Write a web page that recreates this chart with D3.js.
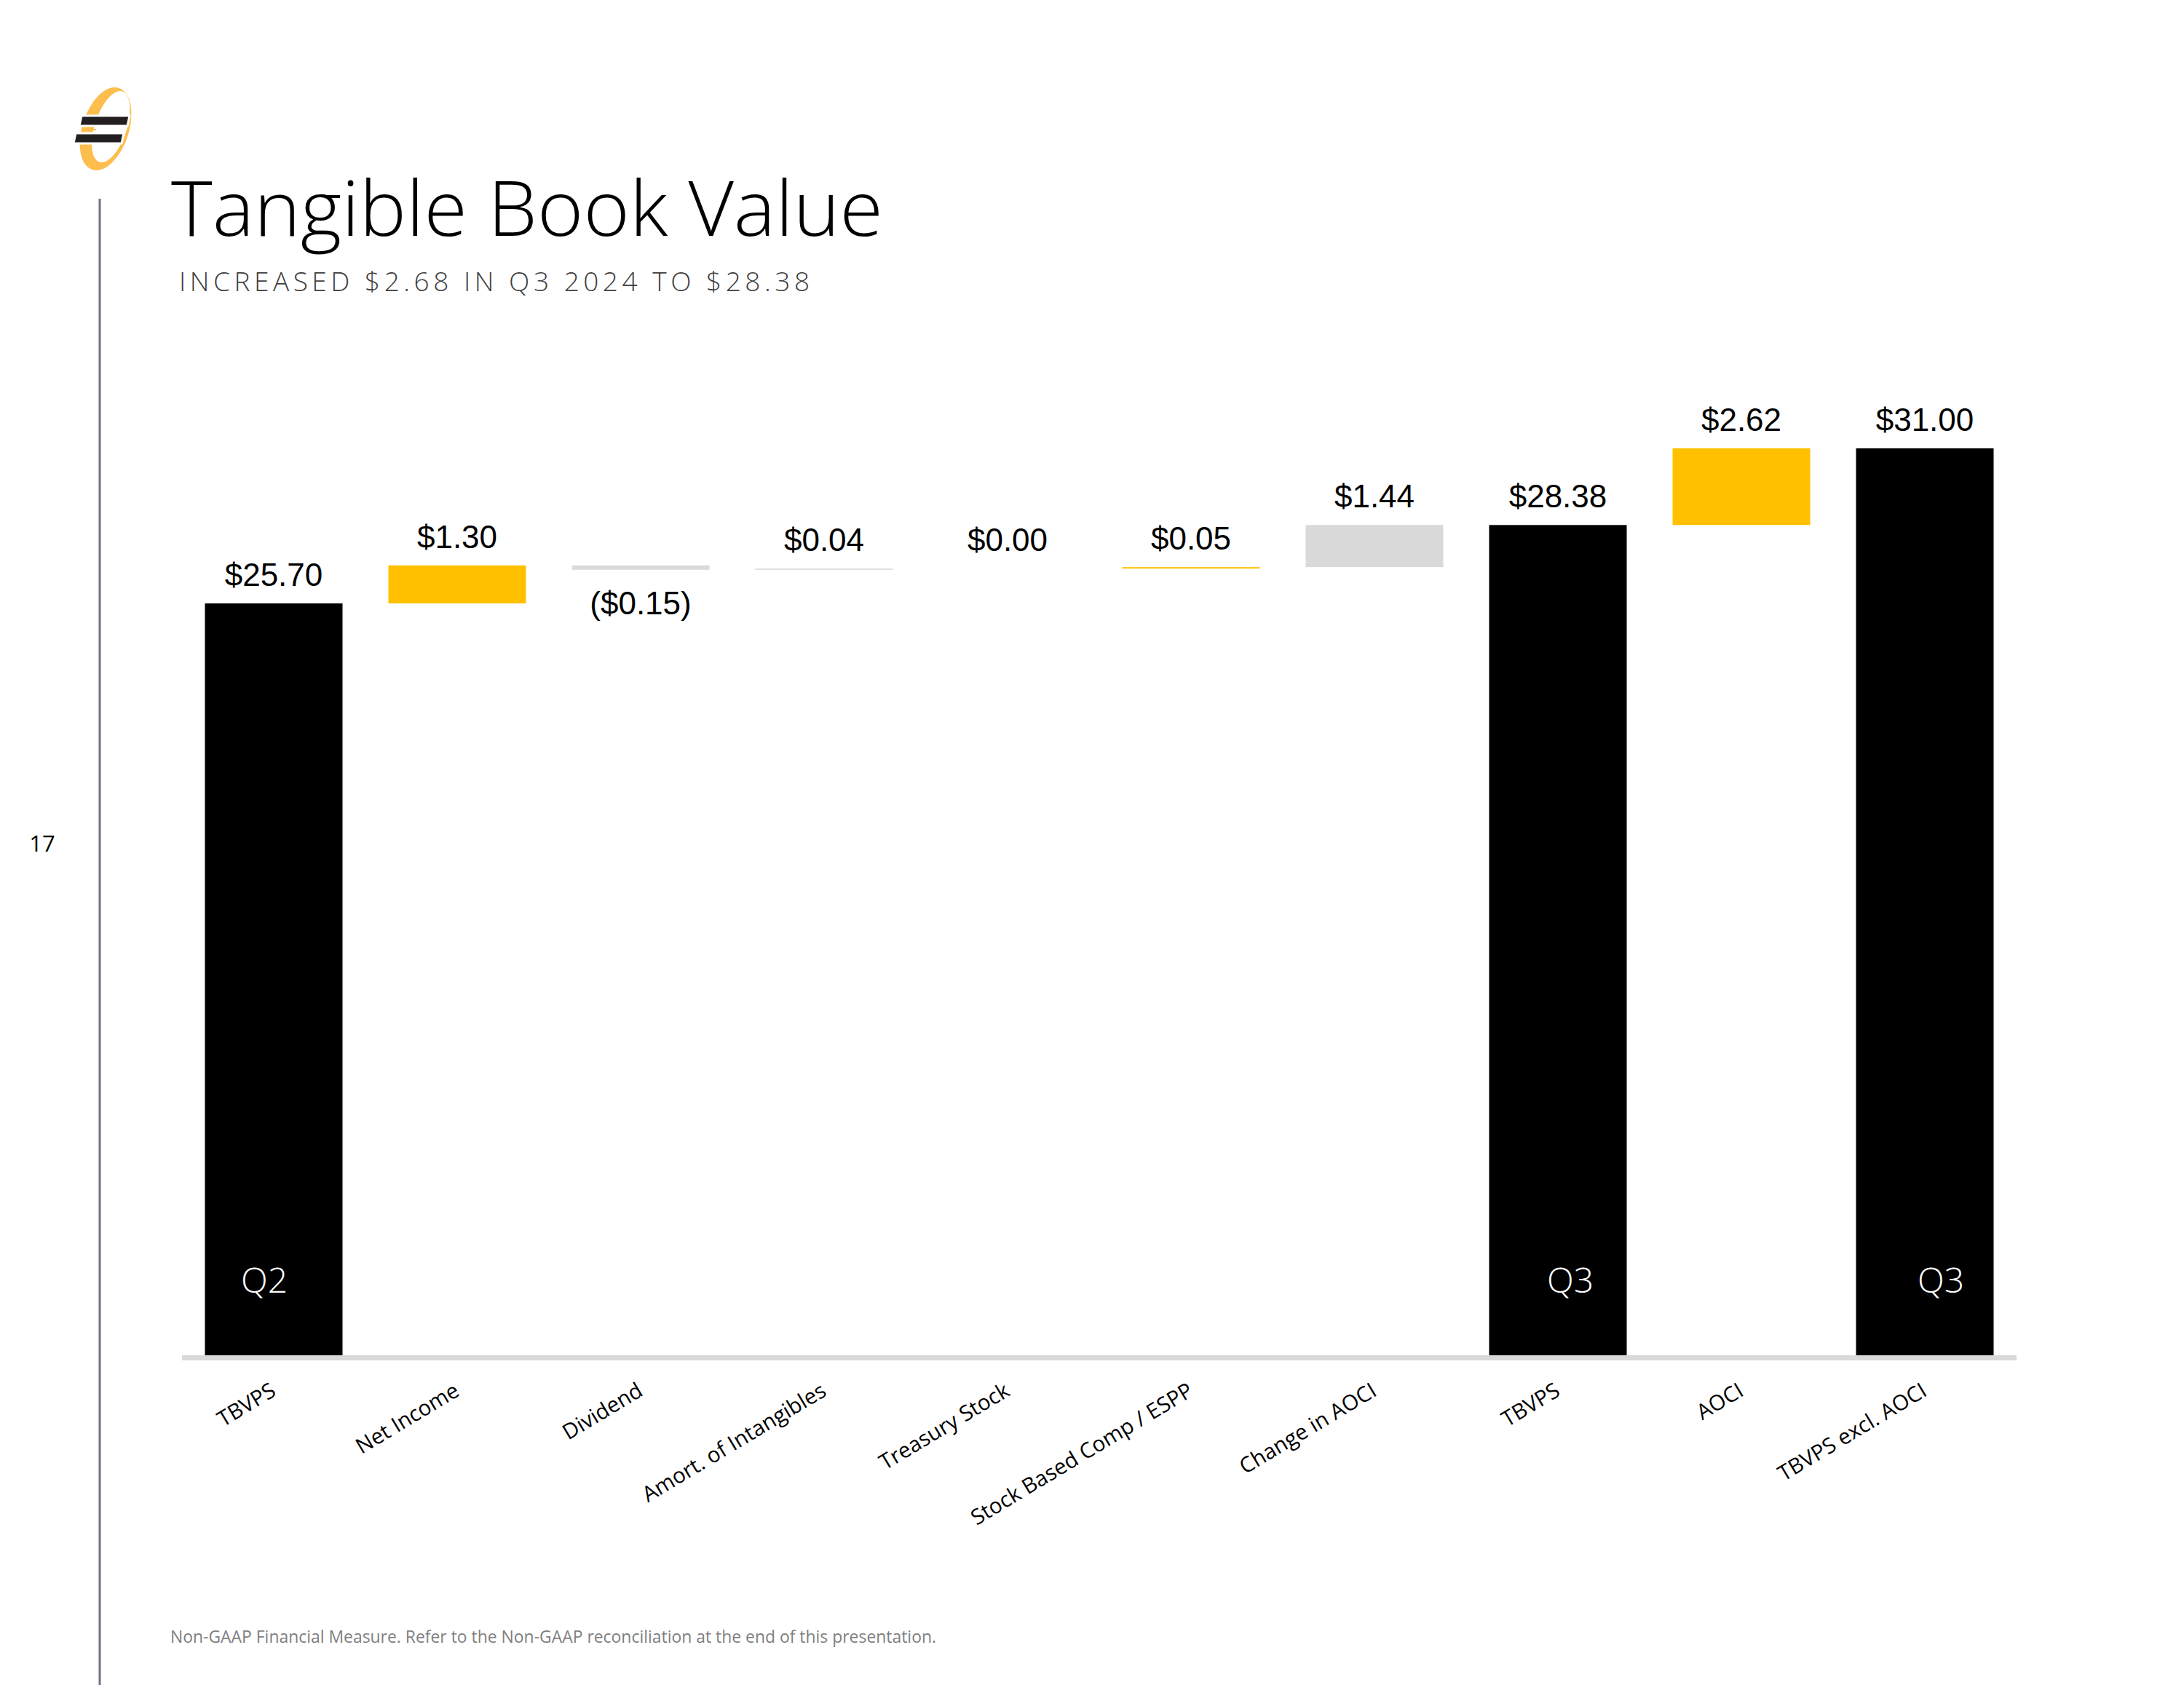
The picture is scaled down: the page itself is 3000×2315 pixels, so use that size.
<!DOCTYPE html>
<html>
<head>
<meta charset="utf-8">
<script src="https://cdn.jsdelivr.net/npm/d3@7"></script>
<style>
  html, body { margin: 0; padding: 0; background: #ffffff; }
  svg { display: block; }
</style>
</head>
<body>
<script>
// ---------- DATA ----------
const categories = ["TBVPS", "Net Income", "Dividend", "Amort. of Intangibles", "Treasury Stock",
  "Stock Based Comp / ESPP", "Change in AOCI", "TBVPS", "AOCI", "TBVPS excl. AOCI"];
const values = [25.70, 1.30, -0.15, 0.04, 0.00, 0.05, 1.44, 28.38, 2.62, 31.00];
const isTotal = [true, false, false, false, false, false, false, true, false, true];
const valueLabels = ["$25.70", "$1.30", "($0.15)", "$0.04", "$0.00", "$0.05", "$1.44", "$28.38", "$2.62", "$31.00"];
const barKinds = ["total", "gold", "gray", "gray", "gray", "gold", "gray", "total", "gold", "total"];
const periodLabels = ["Q2", "", "", "", "", "", "", "Q3", "", "Q3"];

const titleText = "Tangible Book Value";
const subtitleText = "INCREASED $2.68 IN Q3 2024 TO $28.38";
const footnoteText = "Non-GAAP Financial Measure. Refer to the Non-GAAP reconciliation at the end of this presentation.";
const pageNumber = "17";

// ---------- SETUP ----------
const W = 3000, H = 2315;
const svg = d3.select("body").append("svg").attr("width", W).attr("height", H);
svg.append("rect").attr("width", W).attr("height", H).attr("fill", "#ffffff");

const colorOf = { total: "#000000", gold: "#FFC000", gray: "#D9D9D9" };

// waterfall segments
let running = 0;
const segs = values.map((v, i) => {
  let s, e;
  if (isTotal[i]) { s = 0; e = v; running = v; }
  else { s = running; e = running + v; running = e; }
  return { i, v, lo: Math.min(s, e), hi: Math.max(s, e), neg: v < 0 };
});

const x = d3.scaleBand().domain(d3.range(categories.length)).range([250, 2770])
  .paddingInner(0.25).paddingOuter(0.125);
const y = d3.scaleLinear().domain([0, 31]).range([1862, 616]);

// ---------- LOGO ----------
const logo = svg.append("g");
const lg = logo.append("g").attr("transform", "translate(145,177) rotate(18)");
function ell(cx, cy, rx, ry) {
  return `M${cx - rx},${cy} a${rx},${ry} 0 1,0 ${2 * rx},0 a${rx},${ry} 0 1,0 ${-2 * rx},0 Z`;
}
lg.append("path").attr("d", ell(0, 0, 32, 59) + " " + ell(6, -5, 22, 51))
  .attr("fill", "#FDBE4E").attr("fill-rule", "evenodd");
logo.append("polygon").attr("points", "112,159 178,159 175,173 109,173")
  .attr("fill", "#231F20").attr("stroke", "#fff").attr("stroke-width", 3);
logo.append("polygon").attr("points", "104,183 170,183 167,197 101,197")
  .attr("fill", "#231F20").attr("stroke", "#fff").attr("stroke-width", 3);
logo.append("line").attr("x1", 112).attr("x2", 132).attr("y1", 178).attr("y2", 178)
  .attr("stroke", "#FDBE4E").attr("stroke-width", 2);

// left vertical rule and page number
svg.append("line").attr("x1", 137).attr("x2", 137).attr("y1", 273).attr("y2", H)
  .attr("stroke", "#6E7283").attr("stroke-width", 3);
svg.append("text").attr("x", 58).attr("y", 1170).attr("text-anchor", "middle")
  .attr("font-family", "Open Sans, sans-serif").attr("font-size", 31).attr("fill", "#000")
  .text(pageNumber);

// ---------- TITLES ----------
svg.append("text").attr("x", 235).attr("y", 324)
  .attr("font-family", "Open Sans, sans-serif").attr("font-weight", 300).attr("font-size", 106)
  .attr("fill", "#000").attr("textLength", 978).attr("lengthAdjust", "spacingAndGlyphs")
  .text(titleText);
svg.append("text").attr("x", 246).attr("y", 400)
  .attr("font-family", "Open Sans, sans-serif").attr("font-weight", 300).attr("font-size", 37)
  .attr("fill", "#404040").attr("textLength", 866).attr("lengthAdjust", "spacing")
  .text(subtitleText);

// ---------- BARS ----------
const barsG = svg.append("g");
barsG.selectAll("rect").data(segs).enter().append("rect")
  .attr("x", d => x(d.i))
  .attr("width", x.bandwidth())
  .attr("y", d => y(d.hi))
  .attr("height", d => y(d.lo) - y(d.hi))
  .attr("fill", d => colorOf[barKinds[d.i]]);

// baseline axis
const axisG = svg.append("g").attr("transform", "translate(0,1865.5)");
axisG.call(d3.axisBottom(x).tickSize(0).tickFormat(() => ""));
axisG.select(".domain").attr("stroke", "#D9D9D9").attr("stroke-width", 7)
  .attr("d", `M${x.range()[0]},0H${x.range()[1]}`);

// category labels (rotated)
svg.append("g").selectAll("text").data(categories).enter().append("text")
  .attr("transform", (d, i) => `translate(${x(i) + x.bandwidth() / 2 - 6},1898) rotate(-31)`)
  .attr("text-anchor", "end")
  .attr("dy", "0.72em")
  .attr("font-family", "Open Sans, sans-serif").attr("font-size", 29.5).attr("fill", "#000")
  .text(d => d);

// value labels
svg.append("g").selectAll("text").data(segs).enter().append("text")
  .attr("x", d => x(d.i) + x.bandwidth() / 2)
  .attr("y", d => d.neg ? y(d.lo) + 61 : y(d.hi) - 24)
  .attr("text-anchor", "middle")
  .attr("font-family", "Liberation Sans, Arial, sans-serif").attr("font-size", 44).attr("fill", "#000")
  .text(d => valueLabels[d.i]);

// period labels inside total bars
const periodDx = { 0: -13, 7: 17, 9: 22 };
svg.append("g").selectAll("text").data(segs.filter(d => periodLabels[d.i])).enter().append("text")
  .attr("x", d => x(d.i) + x.bandwidth() / 2 + (periodDx[d.i] || 0))
  .attr("y", y(0) - 86)
  .attr("text-anchor", "middle")
  .attr("font-family", "Open Sans, sans-serif").attr("font-weight", 300).attr("font-size", 48)
  .attr("fill", "#ffffff")
  .text(d => periodLabels[d.i]);

// ---------- FOOTNOTE ----------
svg.append("text").attr("x", 234).attr("y", 2257)
  .attr("font-family", "Open Sans, sans-serif").attr("font-size", 24)
  .attr("fill", "#7F7F7F").attr("textLength", 1052).attr("lengthAdjust", "spacingAndGlyphs")
  .text(footnoteText);
</script>
</body>
</html>
